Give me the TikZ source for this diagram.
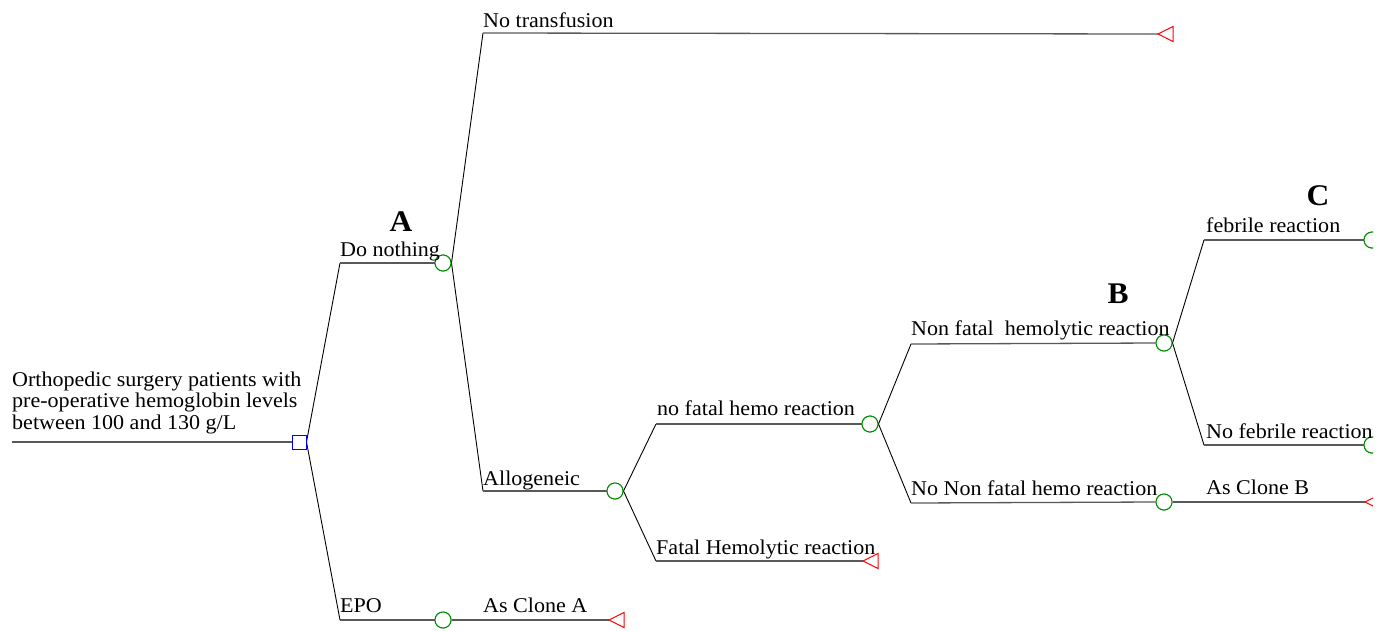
\documentclass[tikz,border=0pt]{standalone}
\usepackage{fontspec}
\setmainfont{Liberation Serif}[FakeStretch=1.05]
\begin{document}
\begin{tikzpicture}[x=1pt,y=-1pt,
  lab/.style={anchor=base west, inner sep=0pt, font=\fontsize{21}{22}\selectfont},
  big/.style={inner sep=0pt, font=\fontsize{30}{30}\selectfont\bfseries},
  chance/.style={circle, draw=green!55!black, minimum size=16pt, inner sep=0pt, line width=1pt, fill=white},
  dec/.style={rectangle, draw=blue, minimum size=14pt, inner sep=0pt, line width=1pt, fill=white},
  hline/.style={draw=black!65, line width=1.3pt},
  sline/.style={draw=black, line width=0.9pt},
  term/.style={draw=red, line width=1pt, line join=miter}]
\useasboundingbox (0,0) rectangle (1389,630);
\clip (0,0) rectangle (1373,630);

% nodes
\coordinate (start) at (12,442);
\node[dec] (root) at (299,442) {};
\coordinate (b1) at (340,263);
\coordinate (b2) at (340,620);
\node[chance] (c1) at (443,263) {};
\node[chance] (c2) at (443,620) {};
\coordinate (b3) at (483,33);
\coordinate (b4) at (483,491);
\coordinate (t1) at (1158,34);
\node[chance] (c3) at (615,491) {};
\coordinate (b5) at (656,424);
\coordinate (b6) at (656,561);
\node[chance] (c4) at (870,424) {};
\coordinate (t2) at (863,561);
\coordinate (b7) at (911,344);
\coordinate (b8) at (911,503);
\node[chance] (c5) at (1164,343) {};
\node[chance] (c6) at (1164,502) {};
\coordinate (b9) at (1204,240);
\coordinate (b10) at (1204,445);
\node[chance] (c7) at (1372,240) {};
\node[chance] (c8) at (1372,445) {};
\coordinate (t3) at (1365,502);
\coordinate (t4) at (609,620);

% connectors
\draw[hline] (start) -- (root.west);
\draw[sline] (root.east) -- (b1);
\draw[sline] (root.east) -- (b2);
\draw[hline] (b1) -- (c1.west);
\draw[hline] (b2) -- (c2.west);
\draw[sline] (c1.east) -- (b3);
\draw[sline] (c1.east) -- (b4);
\draw[hline] (b3) -- (t1);
\draw[hline] (b4) -- (c3.west);
\draw[sline] (c3.east) -- (b5);
\draw[sline] (c3.east) -- (b6);
\draw[hline] (b5) -- (c4.west);
\draw[hline] (b6) -- (t2);
\draw[sline] (c4.east) -- (b7);
\draw[sline] (c4.east) -- (b8);
\draw[hline] (b7) -- (c5.west);
\draw[hline] (b8) -- (c6.west);
\draw[sline] (c5.east) -- (b9);
\draw[sline] (c5.east) -- (b10);
\draw[hline] (b9) -- (c7.west);
\draw[hline] (b10) -- (c8.west);
\draw[hline] (c6.east) -- (t3);
\draw[hline] (c2.east) -- (t4);

% terminals
\foreach \t in {t1,t2,t3,t4}
  \draw[term] (\t) -- ++(15,-7.5) -- ++(0,15) -- cycle;

% redraw nodes on top
\node[dec] at (root) {};
\foreach \c in {c1,c2,c3,c4,c5,c6,c7,c8}
  \node[chance] at (\c) {};

% labels
\node[anchor=north west, inner sep=0pt, align=left, font=\fontsize{21}{21.5}\selectfont] (roottxt) at (12,371.5)
  {Orthopedic surgery patients with\\pre-operative hemoglobin levels\\between 100 and 130 g/L};
\node[lab] (l1) at (483,27) {No transfusion};
\node[lab] (l2) at (340,256) {Do nothing};
\node[big] (lA) at (401,222) {A};
\node[lab] (l3) at (483,485) {Allogeneic};
\node[lab] (l4) at (657,415) {no fatal hemo reaction};
\node[lab] (l5) at (656,554) {Fatal Hemolytic reaction};
\node[lab] (l6) at (911,335) {Non fatal\ \ hemolytic reaction};
\node[big] (lB) at (1118,294) {B};
\node[lab] (l7) at (911,495) {No Non fatal hemo reaction};
\node[lab] (l8) at (1206,494) {As Clone B};
\node[big] (lC) at (1318,196) {C};
\node[lab] (l9) at (1206,232) {febrile reaction};
\node[lab] (l10) at (1206,438) {No febrile reaction};
\node[lab] (l11) at (340,612) {EPO};
\node[lab] (l12) at (483,612) {As Clone A};
\end{tikzpicture}
\end{document}
